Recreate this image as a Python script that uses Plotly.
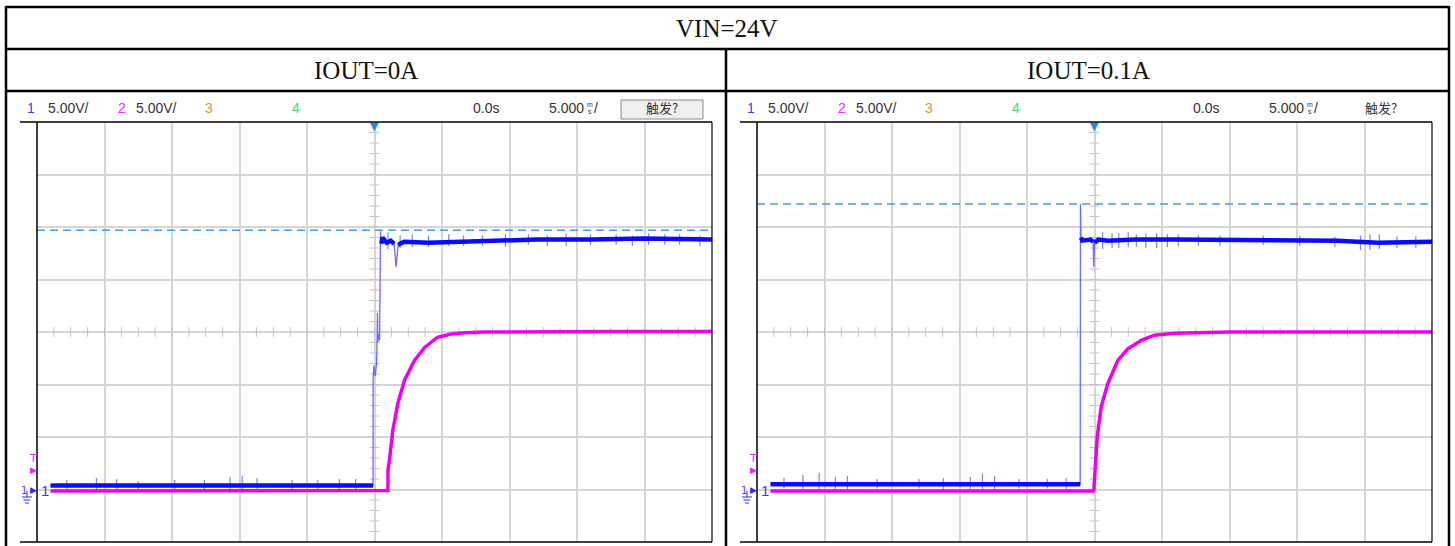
import plotly.graph_objects as go

W, H = 1455, 546

# ---------------- data (time in ms, voltage in V) ----------------
title_top = "VIN=24V"
panel_titles = ["IOUT=0A", "IOUT=0.1A"]

# Left panel: IOUT=0A
L_ch1_t = [-24, -15, -8, -0.15, -0.11, -0.1, -0.05, 0.05, 0.15, 0.2, 0.22, 0.25, 0.3, 0.38, 0.44,
           0.5, 0.6, 0.9, 1.2, 1.45, 1.6, 1.75, 2.2, 4, 6, 9, 12, 16, 20, 25]
L_ch1_v = [0.38, 0.4, 0.38, 0.38, 0.38, 10.5, 11.8, 10.8, 12.0, 14.8, 16.8, 14.0, 14.8, 14.2, 24.6,
           23.4, 24.0, 23.5, 23.7, 23.4, 21.2, 23.3, 23.6, 23.5, 23.6, 23.7, 23.8, 23.8, 23.9, 23.8]
# index spans of the dense (thick) parts of the trace: [start, end)
L_ch1_dense = [(0, 5), (15, 20), (21, 30)]

L_ch2_t = [-24, -10, 0.9, 0.99, 1.0, 1.11, 1.36, 1.73, 2.22, 2.96, 3.7, 4.67, 5.68, 6.67, 8.15, 12, 18, 25]
L_ch2_v = [-0.15, -0.15, -0.15, -0.1, 1.86, 2.8, 5.67, 8.2, 10.4, 12.3, 13.5, 14.5, 14.8, 14.93, 15.0,
           15.05, 15.05, 15.05]

L_sp_t = [-22.8, -20.6, -19.1, -17.5, -14.8, -12.6, -10.7, -9.8, -8.7, -6.1, -4.2, -2.6, -1.4,
          1.0, 1.9, 2.8, 4.0, 5.5, 6.6, 8.0, 9.7, 11.4, 12.8, 14.2, 16.0, 17.9, 19.1, 20.3, 21.5, 22.6, 24.1]
L_sp_lo = [-0.1, -0.2, 0.0, 0.0, 0.0, -0.1, -0.3, 0.0, 0.0, -0.1, 0.0, -0.2, 0.0,
           22.9, 23.0, 23.1, 23.1, 23.2, 23.2, 23.2, 23.1, 23.3, 23.2, 23.2, 23.3, 23.3, 23.2, 23.3, 23.3, 23.3, 23.2]
L_sp_hi = [0.9, 1.1, 1.0, 0.8, 0.9, 0.9, 1.2, 1.3, 1.1, 0.9, 0.9, 1.0, 1.0,
           24.5, 24.2, 24.3, 24.2, 24.3, 24.2, 24.2, 24.3, 24.3, 24.2, 24.4, 24.3, 24.3, 24.2, 24.4, 24.3, 24.3, 24.2]

L_cursor = 24.7

# Right panel: IOUT=0.1A
R_ch1_t = [-24, -15, -8, -1.06, -1.04, -1.0, -0.9, -0.3, -0.1, -0.05, 0.0, 0.3, 1, 3, 6, 10, 14, 18, 21, 23, 25]
R_ch1_v = [0.5, 0.5, 0.5, 0.5, 27.2, 24.0, 23.7, 23.8, 23.6, 21.2, 23.5, 23.8, 23.7, 23.8, 23.8, 23.8,
           23.7, 23.7, 23.5, 23.6, 23.6]
R_ch1_dense = [(0, 4), (5, 9), (10, 21)]

R_ch2_t = [-24, -10, -0.09, -0.05, 0.05, 0.2, 0.5, 0.99, 1.73, 2.47, 3.46, 4.44, 5.93, 7.4, 10, 16, 25]
R_ch2_v = [-0.15, -0.15, -0.15, -0.05, 1.86, 5.0, 7.9, 10.1, 12.3, 13.4, 14.2, 14.7, 14.88, 14.93, 15.0, 15.0, 15.0]

R_sp_t = [-23.0, -21.6, -20.4, -19.2, -18.3, -16.1, -13.0, -11.2, -9.2, -8.3, -7.4, -5.6, -3.5, -2.1,
          0.6, 1.3, 1.8, 2.5, 3.1, 3.8, 4.6, 5.4, 6.2, 7.7, 9.3, 12.5, 15.2, 17.8, 19.7, 20.4, 21.1, 22.4, 23.8]
R_sp_lo = [0.1, 0.0, 0.0, 0.0, 0.0, 0.1, 0.1, 0.0, 0.0, 0.0, 0.0, 0.1, 0.1, 0.0,
           22.9, 23.0, 23.0, 23.1, 23.1, 23.0, 23.0, 23.1, 23.2, 23.2, 23.2, 23.3, 23.2, 23.1, 22.8, 22.8, 22.9, 23.0, 23.0]
R_sp_hi = [1.1, 1.4, 1.6, 1.2, 1.3, 1.0, 1.0, 1.1, 1.2, 1.5, 1.3, 1.0, 1.0, 1.1,
           24.5, 24.4, 24.4, 24.5, 24.3, 24.4, 24.4, 24.3, 24.3, 24.2, 24.2, 24.2, 24.2, 24.1, 24.2, 24.3, 24.3, 24.1, 24.1]

R_cursor = 27.2

# scope settings
x_range = [-25, 25]   # 5 ms/div, 10 div
y_range = [-5, 35]    # 5 V/div, 8 div
x_minor = 1.25
y_minor = 1.0
center_v = 15

# ---------------- helpers ----------------
def fx(x):
    return x / W


def fy(y):
    return 1 - y / H


BLUE = "#0a0aff"
BLUE_THIN = "#6b6bff"
MAG = "#ee00ee"
GRID = "#d6d6d6"

fig = go.Figure()

panels = [
    dict(xa="x", ya="y", t1=L_ch1_t, v1=L_ch1_v, dense=L_ch1_dense,
         t2=L_ch2_t, v2=L_ch2_v, st=L_sp_t, slo=L_sp_lo, shi=L_sp_hi, cur=L_cursor),
    dict(xa="x2", ya="y2", t1=R_ch1_t, v1=R_ch1_v, dense=R_ch1_dense,
         t2=R_ch2_t, v2=R_ch2_v, st=R_sp_t, slo=R_sp_lo, shi=R_sp_hi, cur=R_cursor),
]

n_vt = int(round((y_range[1] - y_range[0]) / y_minor)) + 1
n_ht = int(round((x_range[1] - x_range[0]) / x_minor)) + 1
v_ticks = [y_range[0] + i * y_minor for i in range(n_vt)]
h_ticks = [x_range[0] + i * x_minor for i in range(n_ht)]

for p in panels:
    xa, ya = p["xa"], p["ya"]
    # graticule center-line minor ticks
    fig.add_trace(go.Scatter(x=[0] * len(v_ticks), y=v_ticks, mode="markers", xaxis=xa, yaxis=ya,
                             marker=dict(symbol="line-ew", size=7, line=dict(width=1, color="#c4c4c4")),
                             hoverinfo="skip"))
    fig.add_trace(go.Scatter(x=h_ticks, y=[center_v] * len(h_ticks), mode="markers", xaxis=xa, yaxis=ya,
                             marker=dict(symbol="line-ns", size=7, line=dict(width=1, color="#c4c4c4")),
                             hoverinfo="skip"))
    # cursor
    fig.add_trace(go.Scatter(x=x_range, y=[p["cur"], p["cur"]], mode="lines", xaxis=xa, yaxis=ya,
                             line=dict(color="#3f9cf0", width=1.5, dash="8px,5px"), hoverinfo="skip"))
    # CH2
    fig.add_trace(go.Scatter(x=p["t2"], y=p["v2"], mode="lines", xaxis=xa, yaxis=ya,
                             line=dict(color=MAG, width=3.5), hoverinfo="skip"))
    # CH1 spikes
    sx, sy = [], []
    for t, lo, hi in zip(p["st"], p["slo"], p["shi"]):
        sx += [t, t, None]
        sy += [lo, hi, None]
    fig.add_trace(go.Scatter(x=sx, y=sy, mode="lines", xaxis=xa, yaxis=ya,
                             line=dict(color="rgba(60,60,255,0.65)", width=1.2), hoverinfo="skip"))
    # CH1 full path thin
    fig.add_trace(go.Scatter(x=p["t1"], y=p["v1"], mode="lines", xaxis=xa, yaxis=ya,
                             line=dict(color=BLUE_THIN, width=1.3), hoverinfo="skip"))
    # CH1 dense parts
    for a, b in p["dense"]:
        fig.add_trace(go.Scatter(x=p["t1"][a:b], y=p["v1"][a:b], mode="lines", xaxis=xa, yaxis=ya,
                                 line=dict(color=BLUE, width=4.5), hoverinfo="skip"))

ax_common = dict(showgrid=True, gridcolor=GRID, gridwidth=1.5, zeroline=False, showticklabels=False,
                 ticks="", showline=False, fixedrange=True)
fig.update_layout(
    width=W, height=H, margin=dict(l=0, r=0, t=0, b=0),
    paper_bgcolor="white", plot_bgcolor="white", showlegend=False,
    xaxis=dict(domain=[fx(37), fx(712)], range=x_range, dtick=5, tick0=0, anchor="y", **ax_common),
    yaxis=dict(domain=[fy(542), fy(122)], range=y_range, dtick=5, tick0=0, anchor="x", **ax_common),
    xaxis2=dict(domain=[fx(757), fx(1432)], range=x_range, dtick=5, tick0=0, anchor="y2", **ax_common),
    yaxis2=dict(domain=[fy(542), fy(122)], range=y_range, dtick=5, tick0=0, anchor="x2", **ax_common),
)

shapes = []


def pline(x0, y0, x1, y1, w=2.5, color="black"):
    shapes.append(dict(type="line", xref="paper", yref="paper", x0=fx(x0), y0=fy(y0), x1=fx(x1), y1=fy(y1),
                       line=dict(color=color, width=w), layer="above"))


# table borders
pline(6, 7, 1449, 7)
pline(6, 49, 1449, 49)
pline(6, 91, 1449, 91)
pline(6, 6, 6, 546)
pline(1449, 6, 1449, 546)
pline(726, 49, 726, 546)

# scope frames
for (left, gx0, gx1) in [(20, 37, 712), (740, 757, 1432)]:
    pline(left, 122, gx1, 122, w=1.5)
    pline(left, 542, gx1, 542, w=1.5)
    pline(gx0, 122, gx0, 542, w=1.5)
    pline(gx1, 122, gx1, 542, w=1.2)
    # ground symbol
    gxc = gx0 - 10
    pline(gxc, 491, gxc, 497, w=1, color="#2b2bff")
    pline(gxc - 5, 497, gxc + 5, 497, w=1, color="#2b2bff")
    pline(gxc - 3.5, 500, gxc + 3.5, 500, w=1, color="#2b2bff")
    pline(gxc - 2, 503, gxc + 2, 503, w=1, color="#2b2bff")

# trigger button (left only)
shapes.append(dict(type="rect", xref="paper", yref="paper", x0=fx(621), y0=fy(119), x1=fx(703), y1=fy(100),
                   line=dict(color="#8a8a8a", width=1), fillcolor="#efefef", layer="above"))

fig.update_layout(shapes=shapes)

ann = []


def text(x, y, s, size=14, color="#333333", family="Liberation Sans", xanchor="left"):
    ann.append(dict(x=fx(x), y=fy(y), xref="paper", yref="paper", text=s, showarrow=False,
                    xanchor=xanchor, yanchor="middle", font=dict(size=size, color=color, family=family)))


SERIF = "Liberation Serif"
text(727, 28, title_top, size=25, family=SERIF, color="#111111", xanchor="center")
text(366, 71, panel_titles[0], size=25, family=SERIF, color="#111111", xanchor="center")
text(1088, 71, panel_titles[1], size=25, family=SERIF, color="#111111", xanchor="center")

for off, center_px, button in [(0, 375, True), (720, 1094.5, False)]:
    yh = 108
    text(25 + off, yh, "1", color="#3a3aff")
    text(46 + off, yh, "5.00V/")
    text(116 + off, yh, "2", color="#ff22ff")
    text(134 + off, yh, "5.00V/")
    text(203 + off, yh, "3", color="#c9a23a")
    text(290 + off, yh, "4", color="#2fdc86")
    text(471 + off, yh, "0.0s")
    text(547 + off, yh, "5.000")
    text(585 + off, 104, "m", size=7)
    text(585.5 + off, 112, "s", size=7)
    text(592 + off, yh, "/")
    text(662 if button else 1381, yh, "触发?", size=13, family="Noto Sans CJK SC", xanchor="center")
    # trigger position marker
    text(center_px, 126, "▼", size=11, color="#1e88f0", family="DejaVu Sans", xanchor="center")
    # trigger level / channel markers
    text(27 + off, 458, "T", size=11, color="#ee22ee", family="DejaVu Sans")
    text(28 + off, 470, "▶", size=9, color="#ee22ee", family="DejaVu Sans")
    text(19 + off, 490, "1", size=10, color="#7a2bff", family="DejaVu Sans")
    text(28 + off, 490, "▶", size=9, color="#2b2bff", family="DejaVu Sans")
    text(39 + off, 490, "1", size=15, color="#3a3aff", family="Liberation Sans")

fig.update_layout(annotations=ann)

fig.write_html("out.html", config={"displayModeBar": False},
               post_script="document.body.style.margin='0px';document.body.style.overflow='hidden';")
